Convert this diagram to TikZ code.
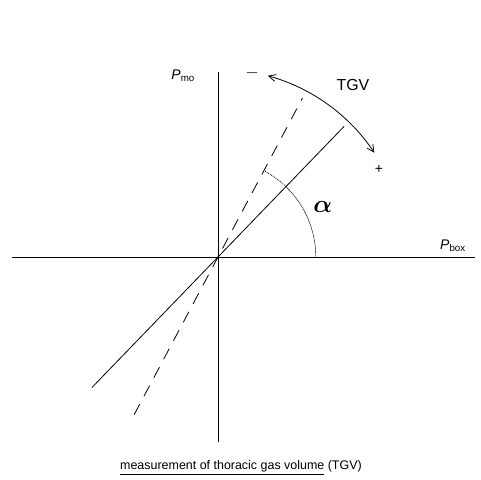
\documentclass[tikz,border=0pt]{standalone}
\usepackage{fontspec}
\setmainfont{Liberation Sans}
\usepackage{amsmath, amssymb, bm}
\usetikzlibrary{arrows.meta}

\begin{document}
\begin{tikzpicture}[>={Straight Barb[length=7pt,width=7pt]}, font=\fontsize{12.5}{15}\selectfont]
        \def\axisH{6.53} \def\lineR{6.4} \def\alphaAngle{46} \def\dashAngle{62} \def\arcR{3.45} \def\tgvR{6.63}

        \useasboundingbox (-7.691,-7.867) rectangle (9.278,9.066);

        \coordinate (O) at (0,0);
        \coordinate (Xl) at (-7.27,0);
        \coordinate (Xr) at (9.07,0);
        \coordinate (Yb) at (0,-\axisH);
        \coordinate (Yt) at (0,\axisH);

        % axes
        \draw[thick] (Xl) -- (Xr);
        \draw[thick] (Yb) -- (Yt);
        \node[font=\fontsize{14}{16}\selectfont] (pmo) at (-1.23,6.39) {\textit{P}\textsubscript{mo}};
        \node[font=\fontsize{14}{16}\selectfont] (pbox) at (8.29,0.39) {\textit{P}\textsubscript{box}};

        % solid and dashed lines
        \coordinate (Sa) at (180+\alphaAngle:\lineR);
        \coordinate (Sb) at (\alphaAngle:\lineR);
        \draw[thick] (Sa) -- (Sb);
        \coordinate (Da) at (180+\dashAngle:6.3);
        \coordinate (Db) at (\dashAngle:6.35);
        \draw[thick, dash pattern=on 12pt off 9pt] (Da) -- (Db);

        % angle
        \draw (\arcR,0) arc (0:\alphaAngle:\arcR);
        \draw[densely dotted, thick] (\alphaAngle:\arcR) arc (\alphaAngle:\dashAngle:\arcR);
        \node (alpha) at (3.70,1.76) {\fontsize{28}{28}\selectfont$\bm{\alpha}$};

        % TGV arrow
        \draw[<->, thick] (74.6:\tgvR) arc (74.6:33.7:\tgvR);
        \node[font=\fontsize{16}{18}\selectfont] (tgv) at (4.76,6.07) {TGV};
        \node[font=\fontsize{16}{18}\selectfont] (minus) at (1.20,6.49) {$-$};
        \node[font=\fontsize{14}{16}\selectfont] (plus) at (5.68,3.07) {+};

        \node (caption) at (0.81,-7.44) {\underline{measurement of thoracic gas volume} (TGV)};
    \end{tikzpicture}
\end{document}
